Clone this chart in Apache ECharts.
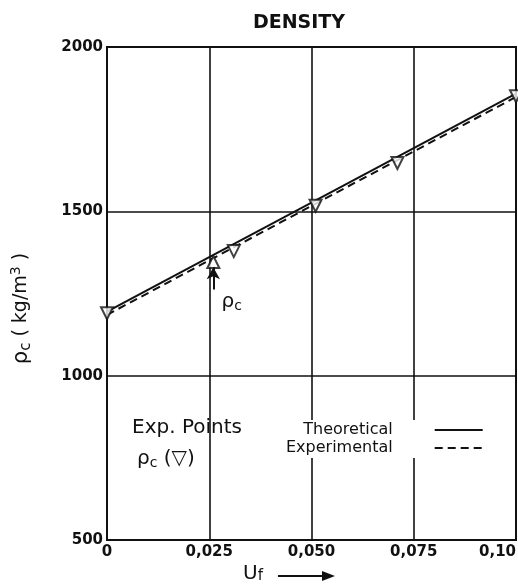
<!DOCTYPE html>
<html>
<head>
<meta charset="utf-8">
<script src="https://cdn.jsdelivr.net/npm/echarts@6/dist/echarts.min.js"></script>
<style>
  html, body { margin: 0; padding: 0; background: #fff; }
  #main { width: 518px; height: 588px; }
</style>
</head>
<body>
<div id="main"></div>
<script>
// lines: theoretical (solid) and experimental (dashed)
var lineUf = [0, 0.1];
var theoretical = [1195, 1858];
var experimental = [1185, 1848];

// experimental points (triangles)
var expUf = [0, 0.026, 0.031, 0.051, 0.071, 0.1];
var expRho = [1190, 1346, 1379, 1517, 1647, 1850];

var xTickLabels = ['0', '0,025', '0,050', '0,075', '0,10'];
var yTickLabels = ['500', '1000', '1500', '2000'];

var ink = '#111';
var font = 'DejaVu Sans';

var myChart = echarts.init(document.getElementById('main'));

var theoData = [], expData = [], pts = [];
for (var i = 0; i < lineUf.length; i++) {
    theoData.push([lineUf[i], theoretical[i]]);
    expData.push([lineUf[i], experimental[i]]);
}
for (var i = 0; i < expUf.length; i++) {
    // the point marked with the arrow is drawn pointing up
    pts.push({ value: [expUf[i], expRho[i]], symbolRotate: i == 1 ? 0 : 180 });
}

var subRich = {
    r: { fontSize: 20, fontFamily: font, color: ink },
    s: { fontSize: 14, fontFamily: font, color: ink, verticalAlign: 'bottom', padding: [9, 0, 0, 0] }
};

var option = {
    backgroundColor: '#fff',
    animation: false,
    textStyle: { fontFamily: font, color: ink },
    title: {
        text: 'DENSITY',
        left: 294,
        textAlign: 'center',
        top: 9,
        textStyle: { fontFamily: font, fontSize: 19, fontWeight: 'bold', color: ink }
    },
    grid: {
        left: 107, right: 2, top: 47, bottom: 48,
        outerBoundsMode: 'none',
        show: true, borderColor: ink, borderWidth: 2
    },
    legend: {
        data: ['Theoretical', 'Experimental'],
        orient: 'vertical',
        align: 'right',
        left: 282,
        top: 420,
        itemGap: 2,
        itemWidth: 48,
        itemHeight: 12,
        backgroundColor: '#fff',
        padding: [2, 4, 2, 4],
        itemStyle: { opacity: 0 },
        textStyle: { fontFamily: font, fontSize: 16, color: ink, padding: [0, 37, 0, 0] }
    },
    xAxis: {
        type: 'value',
        min: 0, max: 0.1, interval: 0.025,
        axisLine: { show: true, lineStyle: { color: ink, width: 2 } },
        axisTick: { show: false },
        splitLine: { show: true, lineStyle: { color: ink, width: 1.6 } },
        axisLabel: {
            color: ink, fontFamily: font, fontSize: 15, fontWeight: 'bold', margin: 5,
            alignMaxLabel: 'right',
            formatter: function (v) {
                return xTickLabels[Math.round(v / 0.025)];
            }
        }
    },
    yAxis: {
        type: 'value',
        min: 500, max: 2000, interval: 500,
        name: '{r|ρ}{s|c} ( kg/m{u|3} )',
        nameLocation: 'middle',
        nameRotate: 90,
        nameGap: 73,
        nameTextStyle: {
            color: ink, fontFamily: font, fontSize: 19,
            padding: [0, 30, 0, 0],
            rich: {
                r: { fontSize: 21, fontFamily: font, color: ink },
                s: { fontSize: 15, fontFamily: font, color: ink, verticalAlign: 'bottom', padding: [9, 0, 0, 0] },
                u: { fontSize: 14, fontFamily: font, color: ink, verticalAlign: 'top', padding: [0, 0, 11, 0] }
            }
        },
        axisLine: { show: true, lineStyle: { color: ink, width: 2 } },
        axisTick: { show: false },
        splitLine: { show: true, lineStyle: { color: ink, width: 1.6 } },
        axisLabel: {
            color: ink, fontFamily: font, fontSize: 15, fontWeight: 'bold', margin: 4,
            formatter: function (v) {
                return yTickLabels[Math.round((v - 500) / 500)];
            }
        }
    },
    series: [
        {
            name: 'Theoretical',
            type: 'line',
            data: theoData,
            symbol: 'none',
            lineStyle: { color: ink, width: 2, type: 'solid' },
            z: 3
        },
        {
            name: 'Experimental',
            type: 'line',
            data: expData,
            symbol: 'none',
            lineStyle: { color: ink, width: 2, type: [8, 5] },
            z: 3
        },
        {
            name: 'points',
            type: 'scatter',
            data: pts,
            symbol: 'triangle',
            symbolSize: 12,
            itemStyle: { color: '#fff', borderColor: ink, borderWidth: 2 },
            z: 4,
            markLine: {
                silent: true,
                symbol: ['none', 'arrow'],
                symbolSize: [10, 12],
                lineStyle: { color: ink, width: 2, type: 'solid' },
                label: { show: false },
                data: [[{ coord: [0.026, 1262] }, { coord: [0.026, 1330] }]]
            },
            markPoint: {
                symbol: 'circle',
                symbolSize: 0,
                label: {
                    show: true,
                    formatter: '{r|ρ}{s|c}',
                    rich: subRich
                },
                data: [{ coord: [0.0305, 1225] }]
            }
        }
    ],
    graphic: [
        {
            type: 'text', left: 132, top: 418,
            style: { text: 'Exp. Points', fontFamily: font, fontSize: 20, fill: ink }
        },
        {
            type: 'text', left: 137, top: 449,
            style: {
                text: '{r|ρ}{s|c} (▽)',
                fontFamily: font, fontSize: 20, fill: ink,
                rich: {
                    r: { fontSize: 20, fontFamily: font, fill: ink },
                    s: { fontSize: 14, fontFamily: font, fill: ink, verticalAlign: 'bottom', padding: [9, 0, 0, 0] }
                }
            }
        },
        {
            type: 'text', left: 243, top: 564,
            style: {
                text: '{u|U}{f|f}',
                fill: ink,
                rich: {
                    u: { fontSize: 20, fontFamily: font, fill: ink },
                    f: { fontSize: 15, fontFamily: font, fill: ink, verticalAlign: 'bottom', padding: [5, 0, 0, 0] }
                }
            }
        },
        {
            type: 'line',
            shape: { x1: 278, y1: 576, x2: 326, y2: 576 },
            style: { stroke: ink, lineWidth: 2 }
        },
        {
            type: 'polygon',
            shape: { points: [[335, 576], [322, 571], [322, 581]] },
            style: { fill: ink }
        }
    ]
};

myChart.setOption(option);
</script>
</body>
</html>
